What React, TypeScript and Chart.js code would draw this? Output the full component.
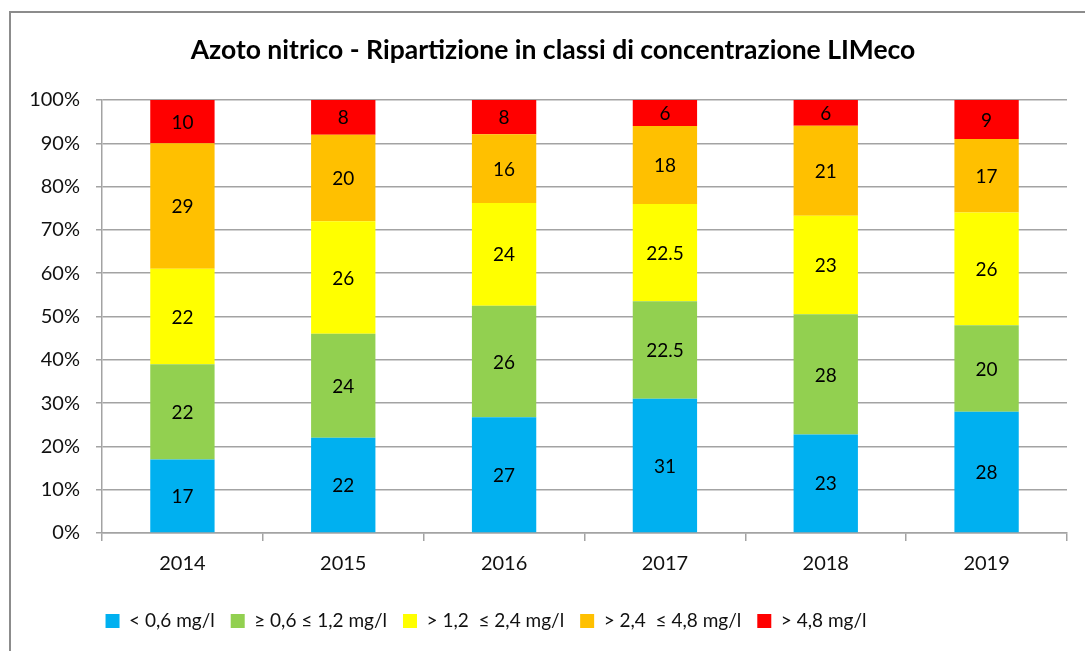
import { useEffect, useRef } from 'react';
import { Chart, registerables } from 'chart.js';

Chart.register(...registerables);

const years = ['2014', '2015', '2016', '2017', '2018', '2019'];
const classLabels = ['< 0,6 mg/l', '≥ 0,6 ≤ 1,2 mg/l', '> 1,2  ≤ 2,4 mg/l', '> 2,4  ≤ 4,8 mg/l', '> 4,8 mg/l'];
const classColors = ['#00B0F0', '#92D050', '#FFFF00', '#FFC000', '#FF0000'];

const lt06 = [17, 22, 27, 31, 23, 28];
const c06to12 = [22, 24, 26, 22.5, 28, 20];
const c12to24 = [22, 26, 24, 22.5, 23, 26];
const c24to48 = [29, 20, 16, 18, 21, 17];
const gt48 = [10, 8, 8, 6, 6, 9];

const seriesValues = [lt06, c06to12, c12to24, c24to48, gt48];
const titleText = 'Azoto nitrico - Ripartizione in classi di concentrazione LIMeco';

const FONT = 'Lato, "Open Sans", sans-serif';
const GRID = '#a3a3a3';

const totals = years.map((_, j) => seriesValues.reduce((s, arr) => s + arr[j], 0));

const segmentLabels = {
  id: 'segmentLabels',
  afterDatasetsDraw(chart: any) {
    const ctx = chart.ctx;
    ctx.save();
    ctx.font = `19px ${FONT}`;
    ctx.fillStyle = '#000';
    ctx.textAlign = 'center';
    ctx.textBaseline = 'middle';
    chart.data.datasets.forEach((ds: any, i: number) => {
      const meta = chart.getDatasetMeta(i);
      meta.data.forEach((bar: any, j: number) => {
        const { x, y, base } = bar.getProps(['x', 'y', 'base'], true);
        ctx.fillText(String(ds.rawValues[j]), x, (y + base) / 2 + 1);
      });
    });
    ctx.restore();
  },
};

const placeBlocks = {
  id: 'placeBlocks',
  afterLayout(chart: any) {
    const t = chart.titleBlock;
    if (t) {
      t.left = 0;
      t.right = 1106;
    }
    const l = chart.legend;
    if (l) {
      l.left = 0;
      l.right = 972;
      l.top = 595.5;
      l.bottom = 680;
    }
  },
};

export default function App() {
  const ref = useRef<HTMLCanvasElement | null>(null);

  useEffect(() => {
    let chart: Chart | null = null;
    let cancelled = false;
    const make = () => {
      if (cancelled || !ref.current) return;
      chart = new Chart(ref.current, {
        type: 'bar',
        data: {
          labels: years,
          datasets: seriesValues.map((vals, i) => ({
            label: classLabels[i],
            data: vals.map((v, j) => (v / totals[j]) * 100),
            rawValues: vals,
            backgroundColor: classColors[i],
            borderWidth: 0,
            barPercentage: 0.4,
            categoryPercentage: 1,
          })) as any,
        },
        options: {
          responsive: false,
          animation: false,
          layout: { padding: { left: 0, right: 18, top: 0, bottom: 30 } },
          plugins: {
            title: {
              display: true,
              text: titleText,
              color: '#000',
              font: { family: FONT, size: 26.5, weight: 'bold', lineHeight: 1.2 },
              padding: { top: 34.1, bottom: 34.1 },
            },
            legend: {
              display: true,
              position: 'bottom',
              align: 'center',
              maxHeight: 45,
              labels: {
                color: '#111',
                font: { family: FONT, size: 19 },
                boxWidth: 14,
                boxHeight: 14,
                padding: 16,
              },
            },
            tooltip: { enabled: false },
          },
          scales: {
            x: {
              stacked: true,
              grid: {
                display: true,
                drawOnChartArea: false,
                drawTicks: true,
                tickLength: 8,
                color: GRID,
                lineWidth: 1.5,
              },
              border: { display: true, color: GRID, width: 1.5 },
              ticks: { color: '#111', font: { family: FONT, size: 20 }, padding: 11 },
              afterFit(scale: any) {
                scale.height = 43;
              },
            },
            y: {
              stacked: true,
              min: 0,
              max: 100,
              grid: { color: GRID, lineWidth: 1.5, drawTicks: true, tickLength: 6 },
              border: { display: true, color: GRID, width: 1.5 },
              ticks: {
                stepSize: 10,
                color: '#111',
                font: { family: FONT, size: 20 },
                padding: 16,
                callback: (v: any) => `${v}%`,
              },
              afterFit(scale: any) {
                scale.width = 102;
              },
            },
          },
        },
        plugins: [segmentLabels, placeBlocks],
      });
    };
    const fonts = (document as any).fonts;
    if (fonts && fonts.load) {
      Promise.all([fonts.load(`20px Lato`), fonts.load(`bold 26px Lato`)])
        .catch(() => null)
        .then(make);
    } else {
      make();
    }
    return () => {
      cancelled = true;
      if (chart) chart.destroy();
    };
  }, []);

  return (
    <div style={{ position: 'fixed', left: 0, top: 0, width: 1085, height: 651, background: '#fff', overflow: 'hidden' }}>
      <div
        style={{
          position: 'absolute',
          left: 9,
          top: 11,
          width: 1100,
          height: 700,
          border: '2px solid #8c8c8c',
          boxSizing: 'border-box',
        }}
      />
      <canvas ref={ref} width={1085} height={651} style={{ position: 'absolute', left: 0, top: 0 }} />
    </div>
  );
}
